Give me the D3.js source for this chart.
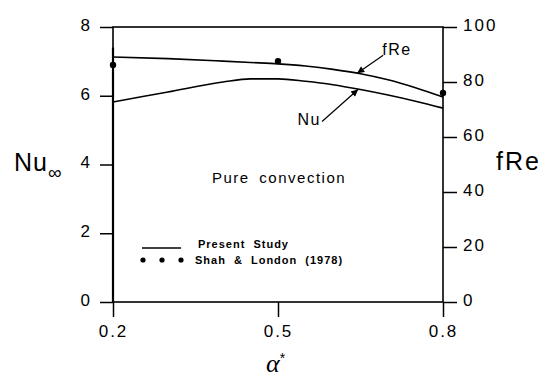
<!DOCTYPE html>
<html>
<head>
<meta charset="utf-8">
<script src="https://cdn.jsdelivr.net/npm/d3@7/dist/d3.min.js"></script>
<style>
  body { margin: 0; background: #fff; }
  text { font-family: "Liberation Sans", Arial, sans-serif; fill: #000; }
</style>
</head>
<body>
<script>
// aspect ratio values
var alphas = [0.2, 0.3, 0.4, 0.45, 0.5, 0.55, 0.6, 0.65, 0.7, 0.75, 0.8];
// present study curves
var nuValues  = [5.82, 6.11, 6.40, 6.49, 6.49, 6.42, 6.32, 6.18, 6.02, 5.84, 5.64];
var fReValues = [89.1, 88.5, 87.6, 87.1, 86.6, 85.8, 84.6, 83.0, 80.8, 77.9, 74.5];
// Shah & London (1978) points, fRe
var shahAlphas = [0.2, 0.5, 0.8];
var shahFRe    = [86.2, 87.6, 76.0];
// tick labels
var xTicks   = [0.2, 0.5, 0.8];
var nuTicks  = [0, 2, 4, 6, 8];
var fReTicks = [0, 20, 40, 60, 80, 100];

var width = 550, height = 383;
var plotLeft = 113, plotRight = 443, plotTop = 27, plotBottom = 302;

var svg = d3.select("body").append("svg")
    .attr("width", width)
    .attr("height", height);

var x = d3.scaleLinear().domain([0.2, 0.8]).range([plotLeft, plotRight]);
var yNu = d3.scaleLinear().domain([0, 8]).range([plotBottom, plotTop]);
var yRe = d3.scaleLinear().domain([0, 100]).range([plotBottom, plotTop]);

// arrow head
svg.append("defs").append("marker")
    .attr("id", "arrow")
    .attr("viewBox", "0 0 10 10")
    .attr("refX", 10).attr("refY", 5)
    .attr("markerWidth", 11).attr("markerHeight", 7)
    .attr("markerUnits", "userSpaceOnUse")
    .attr("orient", "auto")
  .append("path")
    .attr("d", "M0,0L10,5L0,10z")
    .attr("fill", "#000");

// axes
var axL = svg.append("g")
    .attr("transform", "translate(" + plotLeft + ",0)")
    .call(d3.axisLeft(yNu).tickValues(nuTicks).tickSize(13).tickPadding(8).tickSizeOuter(0));
var axR = svg.append("g")
    .attr("transform", "translate(" + plotRight + ",0)")
    .call(d3.axisRight(yRe).tickValues(fReTicks).tickSize(14).tickPadding(6).tickSizeOuter(0));
var axB = svg.append("g")
    .attr("transform", "translate(0," + plotBottom + ")")
    .call(d3.axisBottom(x).tickValues(xTicks).tickFormat(d3.format(".1f")).tickSize(15).tickPadding(8).tickSizeOuter(0));

[axL, axR, axB].forEach(function(ax) {
    ax.selectAll(".domain").remove();
    ax.selectAll("line").attr("stroke", "#000").attr("stroke-width", 1.5);
    ax.selectAll("text")
        .style("font-size", "17px")
        .style("letter-spacing", "2px")
        .attr("fill", "#000");
});
axL.selectAll("text").attr("dy", "0.2em");
axR.selectAll("text").attr("dy", "0.2em");

// frame
svg.append("rect")
    .attr("x", plotLeft).attr("y", plotTop)
    .attr("width", plotRight - plotLeft).attr("height", plotBottom - plotTop)
    .attr("fill", "none")
    .attr("stroke", "#000")
    .attr("stroke-width", 1.6);
svg.append("line")
    .attr("x1", plotLeft).attr("x2", plotLeft)
    .attr("y1", yNu(7.4)).attr("y2", plotBottom)
    .attr("stroke", "#000").attr("stroke-width", 2.2);

// curves
var line = d3.line().curve(d3.curveMonotoneX);
svg.append("path")
    .attr("d", line(alphas.map(function(a, i) { return [x(a), yRe(fReValues[i])]; })))
    .attr("fill", "none").attr("stroke", "#000").attr("stroke-width", 1.6);
svg.append("path")
    .attr("d", line(alphas.map(function(a, i) { return [x(a), yNu(nuValues[i])]; })))
    .attr("fill", "none").attr("stroke", "#000").attr("stroke-width", 1.6);

// Shah & London points
svg.selectAll(".shah")
    .data(shahAlphas)
    .enter().append("circle")
    .attr("class", "shah")
    .attr("cx", function(d) { return x(d); })
    .attr("cy", function(d, i) { return yRe(shahFRe[i]); })
    .attr("r", 3.2)
    .attr("fill", "#000");

// curve labels with arrows
var fTip = [x(0.644), yRe(83.2)];
svg.append("line")
    .attr("x1", fTip[0] + 26).attr("y1", fTip[1] - 18)
    .attr("x2", fTip[0]).attr("y2", fTip[1])
    .attr("stroke", "#000").attr("stroke-width", 1.2)
    .attr("marker-end", "url(#arrow)");
svg.append("text")
    .attr("x", fTip[0] + 25).attr("y", fTip[1] - 18)
    .style("font-size", "16px").style("letter-spacing", "1.5px")
    .text("fRe");

var nTip = [x(0.6455), yNu(6.18)];
svg.append("line")
    .attr("x1", nTip[0] - 36).attr("y1", nTip[1] + 32)
    .attr("x2", nTip[0]).attr("y2", nTip[1])
    .attr("stroke", "#000").attr("stroke-width", 1.2)
    .attr("marker-end", "url(#arrow)");
svg.append("text")
    .attr("x", nTip[0] - 37).attr("y", nTip[1] + 35)
    .attr("text-anchor", "end")
    .style("font-size", "16px").style("letter-spacing", "1.5px")
    .text("Nu");

// inside text
svg.append("text")
    .attr("x", 212).attr("y", 183)
    .style("font-size", "15px").style("letter-spacing", "1.5px").style("word-spacing", "4px")
    .text("Pure convection");

// legend
svg.append("line")
    .attr("x1", 142).attr("x2", 181)
    .attr("y1", 248).attr("y2", 248)
    .attr("stroke", "#000").attr("stroke-width", 1.6);
svg.append("text")
    .attr("x", 198).attr("y", 248)
    .style("font-size", "11px").style("font-weight", "bold")
    .style("letter-spacing", "1px").style("word-spacing", "4px")
    .text("Present Study");
svg.selectAll(".legdot")
    .data([143, 162, 181])
    .enter().append("circle")
    .attr("class", "legdot")
    .attr("cx", function(d) { return d; })
    .attr("cy", 260)
    .attr("r", 2.6)
    .attr("fill", "#000");
svg.append("text")
    .attr("x", 195).attr("y", 264)
    .style("font-size", "11px").style("font-weight", "bold")
    .style("letter-spacing", "1px").style("word-spacing", "4px")
    .text("Shah & London (1978)");

// axis titles
var nuTitle = svg.append("text")
    .attr("x", 14).attr("y", 171)
    .style("font-size", "25px").style("letter-spacing", "1px");
nuTitle.append("tspan").text("Nu");
nuTitle.append("tspan").attr("dy", 8).style("font-size", "19px").text("\u221E");

svg.append("text")
    .attr("x", 496).attr("y", 170)
    .style("font-size", "25px").style("letter-spacing", "2px")
    .text("fRe");

var aTitle = svg.append("text")
    .attr("x", 266).attr("y", 372);
aTitle.append("tspan")
    .style("font-family", "'Liberation Serif', serif")
    .style("font-style", "italic")
    .style("font-size", "26px")
    .text("\u03B1");
aTitle.append("tspan")
    .attr("dy", -9)
    .style("font-size", "14px")
    .text("*");
</script>
</body>
</html>
